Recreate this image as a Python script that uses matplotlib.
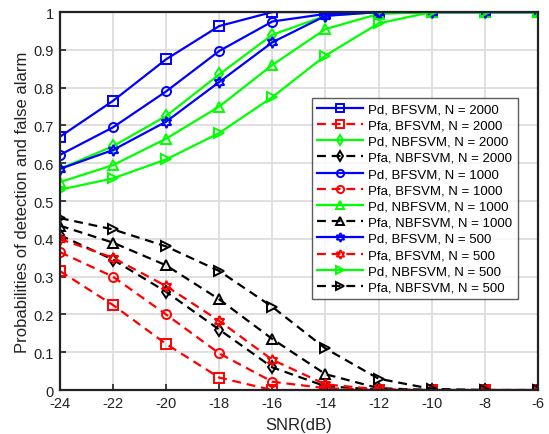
import matplotlib
matplotlib.use("Agg")
import matplotlib.pyplot as plt

snr = [-24, -22, -20, -18, -16, -14, -12, -10, -8, -6]

pd_bf_2000 = [0.67, 0.765, 0.875, 0.963, 1.0, 1.0, 1.0, 1.0, 1.0, 1.0]
pfa_bf_2000 = [0.315, 0.225, 0.122, 0.033, 0.0, 0.0, 0.0, 0.0, 0.0, 0.0]
pd_nbf_2000 = [0.585, 0.645, 0.725, 0.835, 0.94, 0.99, 1.0, 1.0, 1.0, 1.0]
pfa_nbf_2000 = [0.41, 0.345, 0.26, 0.16, 0.06, 0.01, 0.001, 0.0, 0.0, 0.0]
pd_bf_1000 = [0.622, 0.695, 0.79, 0.897, 0.975, 0.995, 1.0, 1.0, 1.0, 1.0]
pfa_bf_1000 = [0.365, 0.30, 0.20, 0.097, 0.022, 0.005, 0.0, 0.0, 0.0, 0.0]
pd_nbf_1000 = [0.55, 0.595, 0.665, 0.75, 0.86, 0.955, 0.995, 1.0, 1.0, 1.0]
pfa_nbf_1000 = [0.435, 0.39, 0.33, 0.24, 0.135, 0.042, 0.005, 0.0, 0.0, 0.0]
pd_bf_500 = [0.585, 0.635, 0.71, 0.815, 0.92, 0.99, 1.0, 1.0, 1.0, 1.0]
pfa_bf_500 = [0.40, 0.35, 0.275, 0.183, 0.08, 0.015, 0.002, 0.0, 0.0, 0.0]
pd_nbf_500 = [0.53, 0.56, 0.61, 0.68, 0.775, 0.885, 0.97, 1.0, 1.0, 1.0]
pfa_nbf_500 = [0.455, 0.425, 0.38, 0.315, 0.22, 0.11, 0.03, 0.003, 0.0, 0.0]

labels = ["Pd, BFSVM, N = 2000", "Pfa, BFSVM, N = 2000",
          "Pd, NBFSVM, N = 2000", "Pfa, NBFSVM, N = 2000",
          "Pd, BFSVM, N = 1000", "Pfa, BFSVM, N = 1000",
          "Pd, NBFSVM, N = 1000", "Pfa, NBFSVM, N = 1000",
          "Pd, BFSVM, N = 500", "Pfa, BFSVM, N = 500",
          "Pd, NBFSVM, N = 500", "Pfa, NBFSVM, N = 500"]

series = [pd_bf_2000, pfa_bf_2000, pd_nbf_2000, pfa_nbf_2000,
          pd_bf_1000, pfa_bf_1000, pd_nbf_1000, pfa_nbf_1000,
          pd_bf_500, pfa_bf_500, pd_nbf_500, pfa_nbf_500]

star6 = (6, 1, 0)
styles = [
    ("#0000FF", "-", "s"), ("#FF0000", "--", "s"),
    ("#00FF00", "-", "d"), ("#000000", "--", "d"),
    ("#0000FF", "-", "o"), ("#FF0000", "--", "o"),
    ("#00FF00", "-", "^"), ("#000000", "--", "^"),
    ("#0000FF", "-", star6), ("#FF0000", "--", star6),
    ("#00FF00", "-", ">"), ("#000000", "--", ">"),
]

plt.rcParams['font.family'] = ['Liberation Sans', 'DejaVu Sans']
plt.rcParams['axes.unicode_minus'] = False

fig = plt.figure(figsize=(5.49, 4.35), dpi=100)
ax = fig.add_axes([0.109, 0.101, 0.871, 0.869])

for y, lab, (c, ls, m) in zip(series, labels, styles):
    ms = 8 if m == star6 else 6.5
    kw = dict(color=c, linestyle=ls, marker=m, markersize=ms,
              markerfacecolor='none', markeredgecolor=c,
              markeredgewidth=1.4, linewidth=1.6, label=lab)
    line, = ax.plot(snr, y, **kw)
    if ls == "--":
        line.set_dashes((4, 2.6))

ax.set_xlim(-24, -6)
ax.set_ylim(0, 1)
ax.set_xticks(snr)
ax.set_xticklabels([str(v) for v in snr])
ax.set_yticks([i / 10 for i in range(11)])
ax.set_yticklabels(["0", "0.1", "0.2", "0.3", "0.4", "0.5", "0.6", "0.7", "0.8", "0.9", "1"])
ax.grid(True, color="#DDDDDD", linewidth=1.3)
ax.set_axisbelow(True)
for s in ax.spines.values():
    s.set_linewidth(1.6)
    s.set_color("#222222")
ax.tick_params(direction='in', length=4, width=1.2, labelsize=10.5, colors="#222222", pad=4.5)
ax.set_xlabel("SNR(dB)", fontsize=12, color="#222222", labelpad=5)
ax.set_ylabel("Probabilities of detection and false alarm", fontsize=12, color="#222222", labelpad=2)

leg = ax.legend(loc='upper left', bbox_to_anchor=(0.527, 0.773), fontsize=9.5,
                frameon=True, fancybox=False, edgecolor="#333333",
                handlelength=3.5, handletextpad=0.38, borderpad=0.4,
                labelspacing=0.3, borderaxespad=0, markerscale=0.8)
leg.get_frame().set_linewidth(1.0)

fig.savefig("out.png", dpi=100)
